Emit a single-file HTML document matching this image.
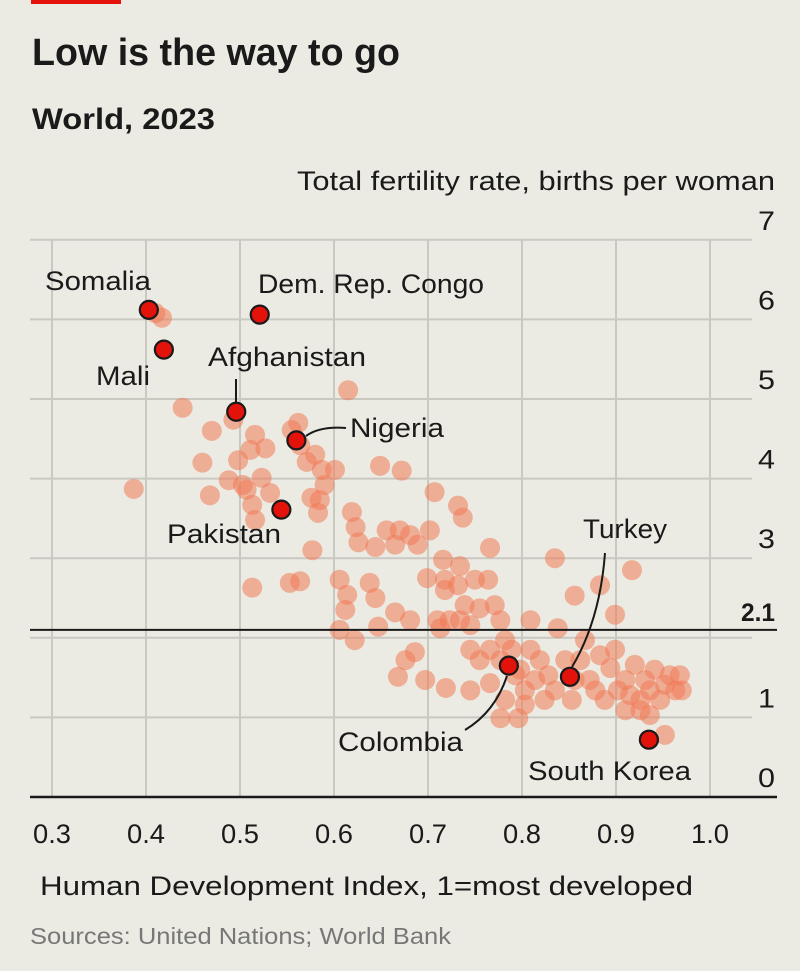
<!DOCTYPE html>
<html><head><meta charset="utf-8"><style>
html,body{margin:0;padding:0;background:#ecebe3;}
svg{display:block;font-family:"Liberation Sans Narrow","Liberation Sans",sans-serif;}
</style></head><body>
<svg id="chart" width="800" height="971" viewBox="0 0 800 971">
<rect x="0" y="0" width="800" height="971" fill="#ecebe3"/>
<rect x="31" y="0" width="90" height="4" fill="#e3120b"/>
<text x="32" y="65" font-size="38" font-weight="bold" fill="#1a1a1a" textLength="368" lengthAdjust="spacingAndGlyphs" font-family="Liberation Sans, sans-serif">Low is the way to go</text>
<text x="32" y="129" font-size="30" font-weight="bold" fill="#1a1a1a" textLength="183" lengthAdjust="spacingAndGlyphs">World, 2023</text>
<text x="775" y="190" font-size="27" fill="#1a1a1a" text-anchor="end" textLength="478" lengthAdjust="spacingAndGlyphs">Total fertility rate, births per woman</text>
<g id="grid"></g>
<g id="dots"></g>
<g id="lines"></g>
<g id="hl"></g>
<g id="labels"></g>
<text x="30" y="944" font-size="23" fill="#777" textLength="421" lengthAdjust="spacingAndGlyphs">Sources: United Nations; World Bank</text>
<text x="40" y="895" font-size="27" fill="#1a1a1a" textLength="653" lengthAdjust="spacingAndGlyphs">Human Development Index, 1=most developed</text>
</svg>
<script>
const xTicks = [0.3,0.4,0.5,0.6,0.7,0.8,0.9,1.0];
const xTickLabels = ["0.3","0.4","0.5","0.6","0.7","0.8","0.9","1.0"];
const yTicks = [0,1,2,3,4,5,6,7];
const yTickLabels = ["0","1","","3","4","5","6","7"];
const replacementRate = 2.1;
const hdi = [.410,.417,.439,.470,.460,.468,.387,.488,.498,.503,.516,.513,.507,.523,.532,.527,.493,.511,.516,.513,.555,.562,.571,.580,.587,.564,.576,.583,.590,.601,.615,.649,.672,.577,.553,.564,.585,.619,.623,.626,.644,.656,.665,.670,.681,.689,.702,.707,.732,.737,.766,.606,.614,.638,.612,.644,.647,.622,.606,.665,.681,.686,.676,.668,.699,.718,.734,.732,.739,.750,.764,.755,.771,.777,.782,.745,.716,.718,.710,.713,.723,.734,.745,.697,.719,.745,.766,.777,.796,.766,.777,.789,.798,.803,.814,.824,.835,.819,.828,.838,.835,.856,.883,.899,.917,.846,.853,.862,.867,.872,.883,.888,.894,.902,.910,.915,.920,.926,.931,.936,.941,.947,.952,.957,.963,.968,.970,.936,.952,.899,.878,.910,.926,.809,.809,.755,.793,.803,.782,.856];
const tfr = [6.08,6.02,4.89,4.60,4.20,3.79,3.87,3.98,4.23,3.92,4.55,3.67,3.86,4.01,3.82,4.38,4.74,4.36,3.48,2.63,4.61,4.70,4.21,4.30,4.11,4.42,3.76,3.57,3.92,4.11,5.11,4.16,4.10,3.10,2.69,2.71,3.73,3.58,3.39,3.20,3.14,3.35,3.17,3.35,3.29,3.17,3.35,3.83,3.66,3.51,3.13,2.73,2.54,2.69,2.35,2.50,2.14,1.97,2.10,2.32,2.22,1.82,1.72,1.51,2.75,2.73,2.90,2.66,2.41,2.73,2.73,2.37,2.41,2.22,1.97,1.85,2.98,2.60,2.22,2.12,2.22,2.22,2.16,1.47,1.37,1.34,1.43,0.99,0.99,1.85,1.72,1.85,1.60,1.34,1.47,1.22,1.34,1.72,1.53,2.12,3.00,2.53,2.66,2.29,2.85,1.72,1.22,1.72,1.97,1.47,1.78,1.22,1.62,1.34,1.47,1.28,1.66,1.22,1.47,1.34,1.60,1.22,1.41,1.53,1.34,1.53,1.34,1.03,0.78,1.85,1.34,1.09,1.09,2.22,1.85,1.72,1.53,1.16,1.22,1.47];
const hlNames = ["Somalia","Dem. Rep. Congo","Mali","Afghanistan","Nigeria","Pakistan","Colombia","Turkey","South Korea"];
const hlHdi = [.403,.521,.419,.496,.560,.544,.786,.851,.935];
const hlTfr = [6.12,6.06,5.62,4.84,4.48,3.61,1.65,1.51,0.72];

const NS="http://www.w3.org/2000/svg";
const X = v => 52 + (v-0.3)*940;
const Y = v => 797 - v*79.6;
function mk(tag, attrs, parent){const e=document.createElementNS(NS,tag);for(const k in attrs)e.setAttribute(k,attrs[k]);parent.appendChild(e);return e;}
const grid=document.getElementById('grid');
yTicks.forEach((t,i)=>{
  if(t>0){const l=mk('line',{x1:30,x2:752,y1:Y(t),y2:Y(t),stroke:'#c9c8c1','stroke-width':2},grid);
  
  }
  if(yTickLabels[i]){
  const tx=mk('text',{x:775,y:Y(t)-10,'font-size':27,fill:'#1a1a1a','text-anchor':'end',textLength:17,lengthAdjust:'spacingAndGlyphs'},grid);
  tx.textContent=yTickLabels[i];
  
  }
});
xTicks.forEach((t,i)=>{
  const l=mk('line',{x1:X(t),x2:X(t),y1:Y(7),y2:Y(0),stroke:'#c9c8c1','stroke-width':2},grid);
  
  
  const tx=mk('text',{x:X(t),y:843,'font-size':27,fill:'#1a1a1a','text-anchor':'middle',textLength:38,lengthAdjust:'spacingAndGlyphs'},grid);
  tx.textContent=xTickLabels[i];
  
  
});
const zl=mk('line',{x1:30,x2:777,y1:Y(0),y2:Y(0),stroke:'#1a1a1a','stroke-width':2.5},grid);


const dots=document.getElementById('dots');
hdi.forEach((h,i)=>{
  const c=mk('circle',{cx:X(h),cy:Y(tfr[i]),r:10,fill:'#f07a55','fill-opacity':0.55},dots);
  
  
});
const rl=mk('line',{x1:30,x2:777,y1:Y(replacementRate),y2:Y(replacementRate),stroke:'#1a1a1a','stroke-width':2},grid.parentNode);


const rt=mk('text',{x:775,y:Y(replacementRate)-9,'font-size':25,'font-weight':'bold',fill:'#1a1a1a','text-anchor':'end',textLength:34,lengthAdjust:'spacingAndGlyphs'},grid.parentNode);
rt.textContent='2.1';


const lines=document.getElementById('lines');
const paths=["M236,379 L236,402","M306,436 Q320,426 346,428","M507,676 Q495,712 465,730","M572,667 Q600,620 605,553"];
paths.forEach(d=>{const p=mk('path',{d:d,fill:'none',stroke:'#1a1a1a','stroke-width':2},lines);
  
  });
const hl=document.getElementById('hl');
hlHdi.forEach((h,i)=>{
  const c=mk('circle',{cx:X(h),cy:Y(hlTfr[i]),r:9,fill:'#e3120b',stroke:'#1a1a1a','stroke-width':2.2},hl);
  
  
});
const lab=document.getElementById('labels');
const lx=[45,258,96,208,350,167,338,583,528];
const ly=[290,293,385,366,437,543,751,538,780];
const lw=[106,226,54,158,94,114,125,84,163];
hlNames.forEach((n,i)=>{
  const t=mk('text',{x:lx[i],y:ly[i],'font-size':27,fill:'#1a1a1a',textLength:lw[i],lengthAdjust:'spacingAndGlyphs'},lab);
  t.textContent=n;
  
  
});
</script>
</body></html>
